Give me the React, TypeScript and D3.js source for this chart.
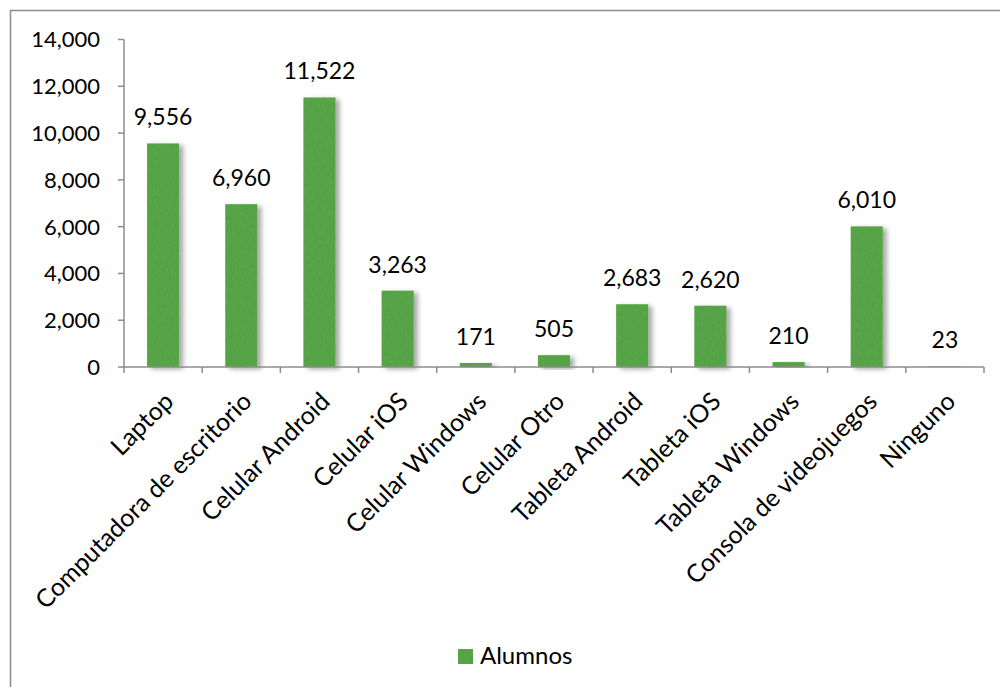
import React from "react";
import * as d3 from "d3";

const categories = [
  "Laptop",
  "Computadora de escritorio",
  "Celular Android",
  "Celular iOS",
  "Celular Windows",
  "Celular Otro",
  "Tableta Android",
  "Tableta iOS",
  "Tableta Windows",
  "Consola de videojuegos",
  "Ninguno",
];
const alumnos = [9556, 6960, 11522, 3263, 171, 505, 2683, 2620, 210, 6010, 23];
const yTicks = [0, 2000, 4000, 6000, 8000, 10000, 12000, 14000];
const seriesName = "Alumnos";

const W = 1000;
const H = 687;
const plot = { left: 124, right: 984, top: 39.5, bottom: 367 };
const FONT = "'Lato', 'Open Sans', sans-serif";
const BAR = "#5cab4c";

export default function App() {
  const x = d3
    .scaleBand<string>()
    .domain(categories)
    .range([plot.left, plot.right])
    .paddingInner(0.59)
    .paddingOuter(0.295);
  const xb = d3.scaleBand<string>().domain(categories).range([plot.left, plot.right]);
  const y = d3.scaleLinear().domain([0, 14000]).range([plot.bottom, plot.top]);
  const fmt = d3.format(",");
  const axisColor = "#8c8c8c";

  return (
    <svg
      width={W}
      height={H}
      style={{ position: "absolute", left: 0, top: 0, background: "#fff" }}
      fontFamily={FONT}
    >
      <defs>
        <filter id="shadow" x="-30%" y="-10%" width="180%" height="130%">
          <feDropShadow dx="4" dy="2" stdDeviation="2.5" floodColor="#000" floodOpacity="0.35" />
        </filter>
        <filter id="tex" x="0" y="0" width="100%" height="100%">
          <feTurbulence type="fractalNoise" baseFrequency="0.9 0.25" numOctaves="2" seed="3" result="n" />
          <feColorMatrix
            in="n"
            type="matrix"
            values="0 0 0 0 0  0 0 0 0 0  0 0 0 0 0  0 0 0 0.18 0"
            result="dark"
          />
          <feComposite in="dark" in2="SourceGraphic" operator="in" result="d2" />
          <feMerge>
            <feMergeNode in="SourceGraphic" />
            <feMergeNode in="d2" />
          </feMerge>
        </filter>
      </defs>
      <rect x={10.5} y={10.5} width={1000} height={700} fill="#fff" stroke="#8c8c8c" strokeWidth={1.5} />

      {/* y axis */}
      <line x1={plot.left} x2={plot.left} y1={plot.top} y2={plot.bottom} stroke={axisColor} strokeWidth={1.5} />
      {yTicks.map((t) => (
        <g key={t}>
          <line x1={plot.left - 6} x2={plot.left} y1={y(t)} y2={y(t)} stroke={axisColor} strokeWidth={1.5} />
          <text x={100} y={y(t)} dy="0.36em" textAnchor="end" fontSize={22} fill="#000">
            {fmt(t)}
          </text>
        </g>
      ))}

      {/* bars */}
      {categories.map((c, i) => (
        <g key={c} filter="url(#shadow)">
          <rect
            x={x(c)}
            y={y(alumnos[i])}
            width={x.bandwidth()}
            height={plot.bottom - y(alumnos[i])}
            fill={BAR}
            filter="url(#tex)"
          />
        </g>
      ))}

      {/* x axis */}
      <line x1={plot.left} x2={plot.right} y1={plot.bottom} y2={plot.bottom} stroke={axisColor} strokeWidth={1.5} />
      {categories.map((c) => (
        <line
          key={"t" + c}
          x1={xb(c)}
          x2={xb(c)}
          y1={plot.bottom}
          y2={plot.bottom + 6}
          stroke={axisColor}
          strokeWidth={1.5}
        />
      ))}
      <line x1={plot.right} x2={plot.right} y1={plot.bottom} y2={plot.bottom + 6} stroke={axisColor} strokeWidth={1.5} />

      {/* data labels */}
      {categories.map((c, i) => (
        <text
          key={"l" + c}
          x={(x(c) as number) + x.bandwidth() / 2}
          y={y(alumnos[i]) - 18}
          textAnchor="middle"
          fontSize={23}
          fill="#000"
        >
          {fmt(alumnos[i])}
        </text>
      ))}

      {/* category labels */}
      {categories.map((c) => {
        const cx = (xb(c) as number) + xb.bandwidth() / 2;
        return (
          <text
            key={"c" + c}
            transform={`translate(${cx + 12},${plot.bottom + 36}) rotate(-45)`}
            textAnchor="end"
            fontSize={25}
            fill="#000"
          >
            {c}
          </text>
        );
      })}

      {/* legend */}
      <rect x={458} y={649} width={15} height={15} fill={BAR} filter="url(#tex)" />
      <text x={480} y={664} fontSize={24} fill="#000">
        {seriesName}
      </text>
    </svg>
  );
}
